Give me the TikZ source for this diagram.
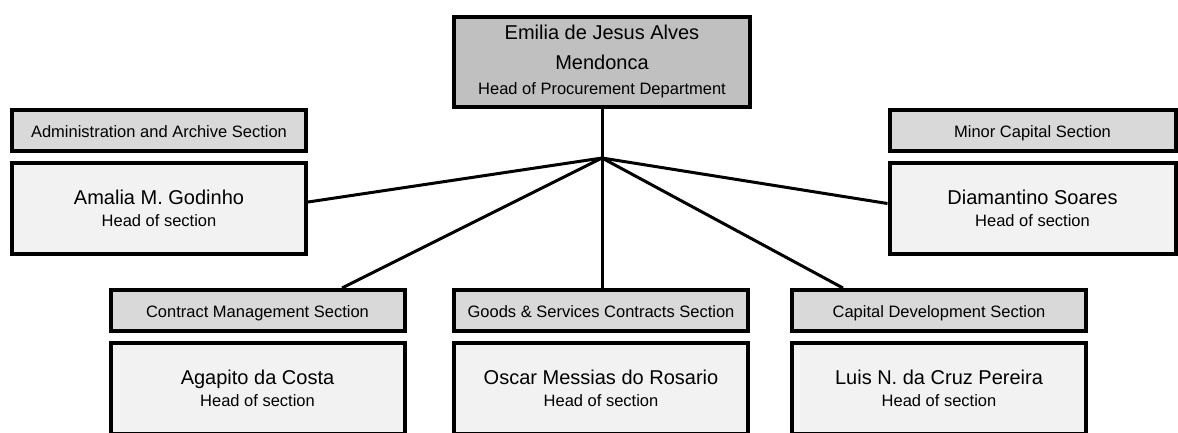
\documentclass[tikz,border=0pt]{standalone}
\usepackage{fontspec}
\setmainfont{Liberation Sans}
\usetikzlibrary{positioning}
\definecolor{headgray}{HTML}{C0C0C0}
\definecolor{labelgray}{HTML}{D9D9D9}
\definecolor{namegray}{HTML}{F2F2F2}
\newcommand{\jobtitle}[1]{{\fontsize{16.5}{22}\selectfont #1}}

\begin{document}
\begin{tikzpicture}[
        x=1pt, y=-1pt,
        line width=3pt,
        headbox/.style={rectangle, draw, line width=4pt, fill=headgray, minimum width=296pt, minimum height=90pt, inner sep=0pt, align=center, font=\fontsize{20}{30}\selectfont},
        sectionbox/.style={rectangle, draw, line width=4pt, fill=labelgray, minimum width=294pt, minimum height=41pt, inner sep=0pt, text height=16pt, text depth=3pt, font=\fontsize{16.5}{20}\selectfont},
        namebox/.style={rectangle, draw, line width=4pt, fill=namegray, minimum width=294pt, minimum height=91pt, inner sep=0pt, align=center, font=\fontsize{20}{22}\selectfont}
    ]
    \useasboundingbox (0,0) rectangle (1178,432);
    \clip (0,0) rectangle (1178,432);

    % Head of department
    \node[headbox] (head) at (602,61.5) {Emilia de Jesus Alves\\Mendonca\\[-5pt]\jobtitle{Head of Procurement Department}};

    % Side sections
    \node[sectionbox] (admin) at (159,130.5) {Administration and Archive Section};
    \node[namebox, below=8pt of admin] (amalia) {Amalia M. Godinho\\\jobtitle{Head of section}};
    \node[sectionbox, minimum width=286pt] (minor) at (1032.5,130.5) {Minor Capital Section};
    \node[namebox, minimum width=286pt, below=8pt of minor] (diamantino) {Diamantino Soares\\\jobtitle{Head of section}};

    % Bottom sections
    \node[sectionbox] (contract) at (257.5,310.5) {Contract Management Section};
    \node[namebox, below=8pt of contract] (agapito) {Agapito da Costa\\\jobtitle{Head of section}};
    \node[sectionbox] (goods) at (601,310.5) {Goods \& Services Contracts Section};
    \node[namebox, below=8pt of goods] (oscar) {Oscar Messias do Rosario\\\jobtitle{Head of section}};
    \node[sectionbox] (capital) at (939,310.5) {Capital Development Section};
    \node[namebox, below=8pt of capital] (luis) {Luis N. da Cruz Pereira\\\jobtitle{Head of section}};

    % Connectors
    \coordinate (hub) at (602,158);
    \draw (head) -- (hub);
    \draw (hub) -- ([yshift=6.5pt]amalia.east);
    \draw (hub) -- ([yshift=5pt]diamantino.west);
    \draw (hub) -- ([xshift=84.5pt]contract.north);
    \draw (hub) -- (hub |- goods.north);
    \draw (hub) -- ([xshift=-96pt]capital.north);

\end{tikzpicture}
\end{document}
